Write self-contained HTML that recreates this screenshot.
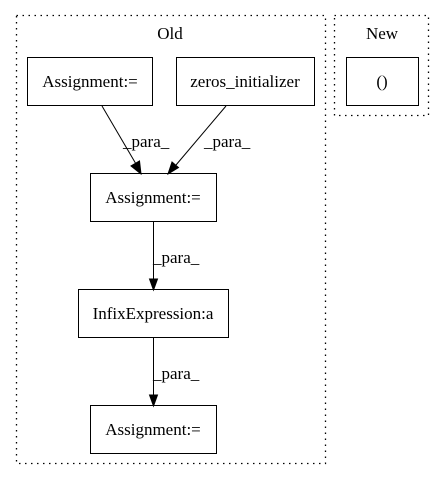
<!DOCTYPE html>
<html><head><style>
body{margin:0;background:#fff;}
svg text{font-family:"Liberation Serif",serif;font-size:17px;}
</style></head><body>
<svg width="445" height="480" viewBox="0 0 445 480" xmlns="http://www.w3.org/2000/svg">
<rect width="445" height="480" fill="#fff"/>
<rect x="16.5" y="15.5" width="309" height="448" fill="none" stroke="#000" stroke-width="1.3" stroke-dasharray="1.5,4.5"/>
<text x="170" y="39" text-anchor="middle">Old</text>
<rect x="334.5" y="15.5" width="94" height="100" fill="none" stroke="#000" stroke-width="1.3" stroke-dasharray="1.5,4.5"/>
<text x="382" y="39" text-anchor="middle">New</text>
<rect x="346.5" y="57.5" width="72" height="48" fill="none" stroke="#000"/>
<text x="382" y="87" text-anchor="middle">()</text>

<rect x="27.5" y="57.5" width="125" height="48" fill="none" stroke="#000"/>
<text x="90" y="87" text-anchor="middle">Assignment:=</text>
<rect x="176.5" y="57.5" width="138" height="48" fill="none" stroke="#000"/>
<text x="245" y="87" text-anchor="middle">zeros_initializer</text>
<rect x="90.5" y="173.5" width="126" height="48" fill="none" stroke="#000"/>
<text x="153" y="203" text-anchor="middle">Assignment:=</text>
<rect x="78.5" y="289.5" width="150" height="48" fill="none" stroke="#000"/>
<text x="153" y="319" text-anchor="middle">InfixExpression:a</text>
<rect x="90.5" y="405.5" width="126" height="48" fill="none" stroke="#000"/>
<text x="153" y="435" text-anchor="middle">Assignment:=</text>

<g stroke="#000" fill="#000">
<line x1="102" y1="106" x2="136" y2="164"/>
<polygon points="131,166 141,174 139.5,161"/>
<line x1="226" y1="106" x2="176" y2="165"/>
<polygon points="172,162 168,174 178.5,167.5"/>
<line x1="153.5" y1="222" x2="153.5" y2="279"/>
<polygon points="149.5,279 153.5,290 157.5,279"/>
<line x1="153.5" y1="338" x2="153.5" y2="395"/>
<polygon points="149.5,395 153.5,406 157.5,395"/>
</g>
<text x="123" y="147">_para_</text>
<text x="204" y="147">_para_</text>
<text x="153" y="263">_para_</text>
<text x="153" y="379">_para_</text>
</svg>
</body></html>
